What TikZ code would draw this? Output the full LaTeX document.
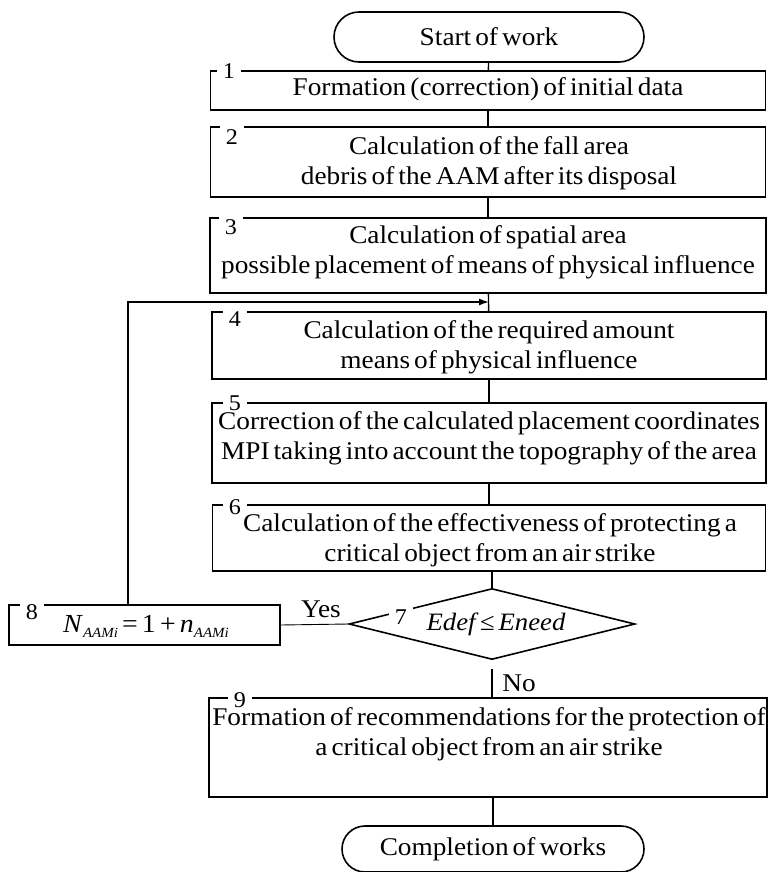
\documentclass[tikz,border=0pt]{standalone}
\usepackage{amsmath}
\usepackage{fontspec}
\setmainfont[FakeStretch=1.07,WordSpace=0.6]{Liberation Serif}
\usetikzlibrary{shapes.geometric,shapes.misc,arrows.meta}

\newcommand{\subaam}{\raisebox{-5pt}{\fontsize{14}{14}\selectfont\itshape AAMi}}

\begin{document}
\begin{tikzpicture}[x=1pt,y=-1pt,
        blk/.style={draw, line width=1.6pt, inner sep=0pt},
        txt/.style={align=center, inner sep=0pt, font=\fontsize{25.5}{30}\selectfont},
        num/.style={fill=white, anchor=base, inner xsep=6pt, inner ysep=0pt,
            text height=18pt, text depth=1pt, font=\fontsize{22.5}{22.5}\selectfont},
        term/.style={draw, line width=1.6pt, rounded rectangle, inner sep=0pt,
            font=\fontsize{25.5}{30}\selectfont},
        link/.style={line width=1.4pt}]
    \useasboundingbox (0,0) rectangle (769,872);

    % start and the blocks
    \node[term, minimum width=310pt, minimum height=50pt] (start) at (489,37) {Start of work};
    \node[blk, minimum width=555pt, minimum height=39pt] (b1) at (488,90.5) {};
    \node[blk, minimum width=555pt, minimum height=70pt] (b2) at (488,162) {};
    \node[blk, minimum width=556pt, minimum height=75pt] (b3) at (488,255.5) {};
    \node[blk, minimum width=554pt, minimum height=67pt] (b4) at (489,345.5) {};
    \node[blk, minimum width=554pt, minimum height=80pt] (b5) at (489,443) {};
    \node[blk, minimum width=553pt, minimum height=66pt] (b6) at (489,538) {};
    \node[draw, diamond, line width=1.6pt, aspect=4, inner sep=0pt,
        minimum width=286pt, minimum height=71pt, font=\fontsize{25}{30}\selectfont\itshape] (d7) at (492,624)
        {\hspace*{8pt}Edef\,≤\,Eneed};
    \node[blk, minimum width=271pt, minimum height=40pt] (b8) at (144.5,625) {};
    \node[blk, minimum width=558pt, minimum height=99pt] (b9) at (488,747.5) {};
    \node[term, minimum width=302pt, minimum height=46pt] (end) at (493,849) {Completion of works};

    % texts of the blocks
    \node[txt] (t1) at (488,89) {Formation (correction) of initial data};
    \node[txt] (t2) at (489,163) {Calculation of the fall area\\debris of the AAM after its disposal};
    \node[txt] (t3) at (488,252) {Calculation of spatial area\\possible placement of means of physical influence};
    \node[txt] (t4) at (489,347) {Calculation of the required amount\\means of physical influence};
    \node[txt] (t5) at (489,438) {Correction of the calculated placement coordinates\\MPI taking into account the topography of the area};
    \node[txt] (t6) at (490,540) {Calculation of the effectiveness of protecting a\\critical object from an air strike};
    \node[txt, font=\fontsize{26}{30}\selectfont] (t8) at (146,626)
        {\textit{N}\subaam\ = 1 + \textit{n}\subaam};
    \node[txt] (t9) at (489,734) {Formation of recommendations for the protection of\\a critical object from an air strike};

    % numbers on the borders
    \node[num] (n1) at (229,79) {1};
    \node[num] (n2) at (232,144) {2};
    \node[num] (n3) at (231,234) {3};
    \node[num] (n4) at (235,326) {4};
    \node[num] (n5) at (235,410) {5};
    \node[num] (n6) at (235,514) {6};
    \node[num, inner xsep=6pt] (n7) at (401,624) {7};
    \node[num] (n8) at (32,619) {8};
    \node[num] (n9) at (240,707) {9};

    % connectors
    \coordinate (j4) at (489,302);
    \draw[link] (start) -- (b1);
    \draw[link] (b1) -- (b2);
    \draw[link] (b2) -- (b3);
    \draw[link] (b3) -- (b4);
    \draw[link] (b4) -- (b5);
    \draw[link] (b5) -- (b6);
    \draw[link] (b6.south -| d7.north) -- (d7.north);
    \draw[link] ([yshift=-9pt]d7.south) -- (b9.north -| d7.south);
    \draw[link] (b9.south -| end.north) -- (end.north);
    \draw[line width=0.9pt] (b8.east) -- (d7.west);
    \draw[link, -{Latex[length=10pt,width=7pt]}] ([xshift=-16.5pt]b8.north) |- (j4);

    \node[txt] (yes) at (321,609) {Yes};
    \node[txt] (no) at (519,683) {No};
\end{tikzpicture}
\end{document}
